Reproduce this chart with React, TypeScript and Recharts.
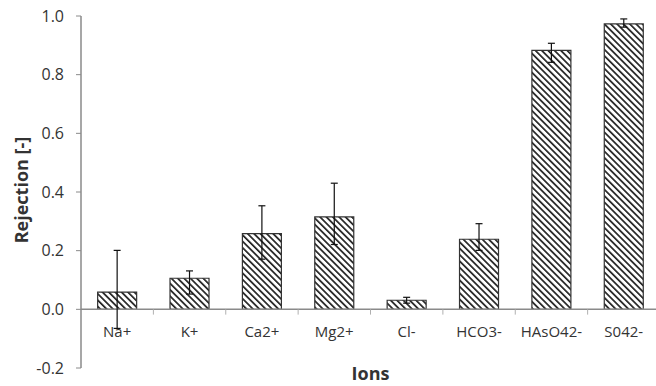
import React from 'react'
import { BarChart, Bar, XAxis, YAxis, ErrorBar, LabelList, ReferenceLine } from 'recharts'

// rejection per ion
const ions = ['Na+', 'K+', 'Ca2+', 'Mg2+', 'Cl-', 'HCO3-', 'HAsO42-', 'S042-']
const rejection = [0.059, 0.106, 0.258, 0.315, 0.031, 0.239, 0.883, 0.973]
// error bars as [below, above]
const errLow = [0.124, 0.054, 0.087, 0.094, 0.01, 0.038, 0.041, 0.011]
const errHigh = [0.142, 0.025, 0.095, 0.115, 0.01, 0.053, 0.024, 0.017]
const yTicks = [-0.2, 0, 0.2, 0.4, 0.6, 0.8, 1.0]

const data = ions.map((ion, i) => ({
  ion,
  pos: i + 0.5,
  value: rejection[i],
  err: [errLow[i], errHigh[i]],
}))

const axisGray = '#8a8a8a'
const textColor = '#333'

const IonLabel = (props: any) => {
  const { x, y, width, height, value } = props
  return (
    <text
      x={x + width / 2}
      y={y + height + 28}
      textAnchor="middle"
      fontSize={15}
      fill={textColor}
    >
      {value}
    </text>
  )
}

const App = () => {
  return (
    <div style={{ position: 'absolute', left: 0, top: 0, width: 656, height: 386, overflow: 'hidden', background: '#fff' }}>
      <BarChart
        width={660}
        height={386}
        data={data}
        margin={{ top: 16, right: 0, left: 0, bottom: 0 }}
        barCategoryGap="23%"
        style={{ fontFamily: '"Open Sans", sans-serif' }}
      >
        <defs>
          <pattern id="hatch" width="4.5" height="4.5" patternUnits="userSpaceOnUse" patternTransform="rotate(-45)">
            <rect width="4.5" height="4.5" fill="#fff" />
            <rect width="1.7" height="4.5" fill="#222" />
          </pattern>
        </defs>
        <XAxis
          dataKey="ion"
          height={18}
          tick={false}
          tickLine={false}
          axisLine={false}
          label={{
            content: (p: any) => (
              <text
                x={p.viewBox.x + p.viewBox.width / 2}
                y={p.viewBox.y + 12}
                textAnchor="middle"
                fontSize={18}
                fontWeight="bold"
                fill={textColor}
              >
                Ions
              </text>
            ),
          }}
        />
        <XAxis xAxisId="edge" type="number" dataKey="pos" domain={[0, ions.length]} allowDataOverflow hide />
        <YAxis
          width={81}
          domain={[-0.2, 1]}
          ticks={yTicks}
          tickFormatter={(v: number) => v.toFixed(1)}
          tick={{ fontSize: 16, fill: textColor }}
          tickSize={5}
          tickMargin={12}
          axisLine={{ stroke: axisGray, strokeWidth: 1.5 }}
          tickLine={{ stroke: axisGray }}
          label={{
            content: (p: any) => {
              const cx = 21
              const cy = p.viewBox.y + p.viewBox.height / 2 - 2
              return (
                <text
                  x={cx}
                  y={cy}
                  transform={`rotate(-90, ${cx}, ${cy})`}
                  textAnchor="middle"
                  dominantBaseline="central"
                  fontSize={18}
                  fontWeight="bold"
                  fill={textColor}
                >
                  Rejection [-]
                </text>
              )
            },
          }}
        />
        <ReferenceLine y={0} stroke={axisGray} strokeWidth={1.5} />
        {ions.map((_, i) => (
          <ReferenceLine
            key={i}
            xAxisId="edge"
            segment={[{ x: i + 1, y: 0 }, { x: i + 1, y: -0.018 }]}
            stroke="#b0b0b0"
            strokeWidth={1}
          />
        ))}
        <Bar dataKey="value" fill="url(#hatch)" stroke="#333" strokeWidth={1.2} isAnimationActive={false}>
          <ErrorBar dataKey="err" width={3.5} stroke="#111" strokeWidth={1.2} />
          <LabelList dataKey="ion" content={IonLabel} />
        </Bar>
      </BarChart>
    </div>
  )
}

export default App
